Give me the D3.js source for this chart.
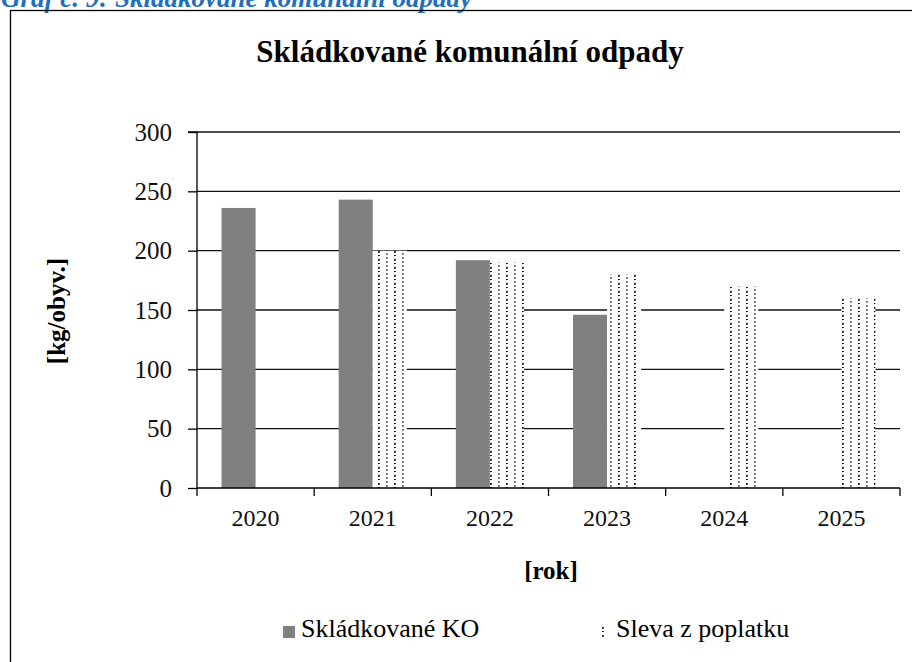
<!DOCTYPE html>
<html>
<head>
<meta charset="utf-8">
<script src="https://cdn.jsdelivr.net/npm/d3@7"></script>
<style>
    body { margin: 0; background: #fff; }
    svg text { font-family: "Liberation Serif", Tinos, "Times New Roman", "DejaVu Serif", serif; }
</style>
</head>
<body>
<div id="svg_container"></div>
<script>
// data
const years = ["2020", "2021", "2022", "2023", "2024", "2025"];
const seriesNames = ["Skládkované KO", "Sleva z poplatku"];
const landfilled = [236, 243, 192, 146, null, null]; // kg/obyv.
const discount = [null, 200, 190, 180, 170, 160];    // kg/obyv.
const yTicks = [0, 50, 100, 150, 200, 250, 300];

let width = 912,
    height = 662,
    plot = {left: 197, right: 900, top: 132, bottom: 488},
    grayFill = "#808080",
    svg, x0, x1, y;

svg = d3.select("#svg_container")
    .append("svg")
    .attr("width", width)
    .attr("height", height);

// dotted fill for the second series: columns every 8px, light and dark ones alternating
let pattern = svg.append("defs")
    .append("pattern")
    .attr("id", "dots")
    .attr("patternUnits", "userSpaceOnUse")
    .attr("width", 16)
    .attr("height", 8);
pattern.append("rect").attr("width", 16).attr("height", 8).attr("fill", "#fff");
[[2, 1, "#666"], [2, 5, "#666"], [10, 3, "#111"], [10, 7, "#111"]].forEach(d => {
    pattern.append("rect")
        .attr("x", d[0]).attr("y", d[1])
        .attr("width", 1.8).attr("height", 1.8)
        .attr("fill", d[2]);
});

// heading above the frame (cut off at the top, as in the source)
svg.append("text")
    .attr("x", 1)
    .attr("y", 7)
    .attr("font-size", 27)
    .attr("font-weight", "bold")
    .attr("font-style", "italic")
    .attr("fill", "#1f6fc0")
    .text("Graf č. 9: Skládkované komunální odpady");

// outer frame, runs off the right and bottom edges
svg.append("rect")
    .attr("x", 10.5)
    .attr("y", 10.5)
    .attr("width", 940)
    .attr("height", 700)
    .attr("fill", "none")
    .attr("stroke", "#000")
    .attr("stroke-width", 1.3);

svg.append("text")
    .attr("x", 470)
    .attr("y", 62)
    .attr("text-anchor", "middle")
    .attr("font-size", 31)
    .attr("font-weight", "bold")
    .text("Skládkované komunální odpady");

// scales
x0 = d3.scaleBand().domain(years).range([plot.left, plot.right]);
x1 = d3.scaleBand().domain(seriesNames).range([0, x0.bandwidth()]).paddingOuter(0.72);
y = d3.scaleLinear().domain([0, 300]).range([plot.bottom, plot.top]);

// gridlines
svg.append("g")
    .selectAll("line")
    .data(yTicks.filter(t => t > 0))
    .join("line")
    .attr("x1", plot.left)
    .attr("x2", plot.right)
    .attr("y1", d => y(d))
    .attr("y2", d => y(d))
    .attr("stroke", "#111")
    .attr("stroke-width", 1.3);

// bars
let rows = years.map((yr, i) => [
    {year: yr, key: seriesNames[0], value: landfilled[i]},
    {year: yr, key: seriesNames[1], value: discount[i]}
]).flat().filter(d => d.value != null);

svg.append("g")
    .selectAll("rect")
    .data(rows)
    .join("rect")
    .attr("x", d => x0(d.year) + x1(d.key))
    .attr("width", x1.bandwidth())
    .attr("y", d => y(d.value))
    .attr("height", d => y(0) - y(d.value))
    .attr("fill", d => d.key === seriesNames[0] ? grayFill : "url(#dots)");

// y axis
let yAxis = svg.append("g")
    .attr("transform", `translate(${plot.left},0)`)
    .call(d3.axisLeft(y).tickValues(yTicks).tickSize(9).tickPadding(16));
yAxis.attr("font-family", null);
yAxis.select(".domain").attr("stroke", "#000").attr("stroke-width", 1.3)
    .attr("d", `M-9,${plot.top}H0V${plot.bottom}`);
yAxis.selectAll(".tick line").attr("stroke", "#000").attr("stroke-width", 1.3);
yAxis.selectAll("text")
    .attr("font-size", 25)
    .attr("fill", "#111");

// x axis: labels from the band scale, ticks on band boundaries
let xAxis = svg.append("g")
    .attr("transform", `translate(0,${plot.bottom})`)
    .call(d3.axisBottom(x0).tickSize(0).tickPadding(21));
xAxis.attr("font-family", null);
xAxis.select(".domain").remove();
xAxis.selectAll("text")
    .attr("font-size", 24)
    .attr("fill", "#111");

let boundaries = years.map(d => x0(d)).concat([plot.right]);
xAxis.append("line")
    .attr("x1", plot.left).attr("x2", plot.right)
    .attr("stroke", "#000").attr("stroke-width", 1.3);
xAxis.selectAll("line.bound")
    .data(boundaries)
    .join("line")
    .attr("class", "bound")
    .attr("x1", d => d).attr("x2", d => d)
    .attr("y1", 0).attr("y2", 8)
    .attr("stroke", "#000").attr("stroke-width", 1.3);

// axis titles
svg.append("text")
    .attr("x", 551)
    .attr("y", 579)
    .attr("text-anchor", "middle")
    .attr("font-size", 25)
    .attr("font-weight", "bold")
    .text("[rok]");

svg.append("text")
    .attr("transform", "translate(65,311) rotate(-90)")
    .attr("text-anchor", "middle")
    .attr("font-size", 25)
    .attr("font-weight", "bold")
    .text("[kg/obyv.]");

// legend
let legend = svg.append("g");
legend.append("rect")
    .attr("x", 283).attr("y", 626)
    .attr("width", 12).attr("height", 12)
    .attr("fill", grayFill);
legend.append("text")
    .attr("x", 301).attr("y", 637)
    .attr("font-size", 26)
    .text(seriesNames[0]);
legend.append("rect")
    .attr("x", 600).attr("y", 626)
    .attr("width", 9).attr("height", 12)
    .attr("fill", "url(#dots)");
legend.append("text")
    .attr("x", 616).attr("y", 637)
    .attr("font-size", 26)
    .text(seriesNames[1]);
</script>
</body>
</html>
